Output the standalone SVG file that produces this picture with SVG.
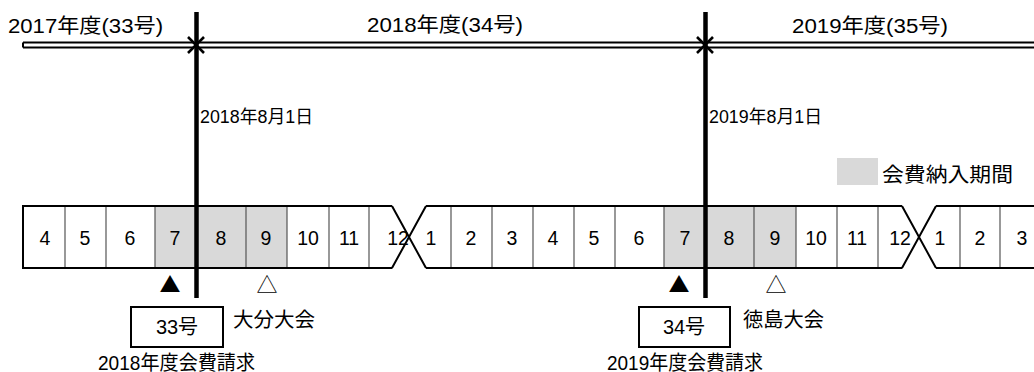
<svg xmlns="http://www.w3.org/2000/svg" width="1034" height="372" viewBox="0 0 1034 372">
<style>
text{font-family:"Liberation Sans","Noto Sans CJK JP",sans-serif;fill:#000}
.yr{font-size:20px}
.dt{font-size:18px}
.m{font-size:19.5px;text-anchor:middle}
.lb{font-size:20px}
.tri{font-size:21px;text-anchor:middle;font-family:"Noto Sans CJK JP",sans-serif}
.out{fill:none;stroke:#000;stroke-width:2}
.div{stroke:#555;stroke-width:1.2}
.thick{stroke:#000;stroke-width:4.5}
.arr{fill:none;stroke:#000;stroke-width:2}
.chev{fill:none;stroke:#000;stroke-width:2.6}
.box{fill:#fff;stroke:#000;stroke-width:2}
.shade{fill:#d9d9d9}
</style>
<rect width="1034" height="372" fill="#fff"/>

<g id="year-labels">
<text class="yr" x="8" y="33" textLength="155" lengthAdjust="spacingAndGlyphs">2017年度(33号)</text>
<text class="yr" x="367" y="32" textLength="156" lengthAdjust="spacingAndGlyphs">2018年度(34号)</text>
<text class="yr" x="792" y="33" textLength="156" lengthAdjust="spacingAndGlyphs">2019年度(35号)</text>
</g>

<g id="connectors">
<path class="arr" d="M23,42.5 H193.5 M23,47.5 H193.5 M23,42.5 V47.5"/>
<path class="chev" d="M188,37 L196,45 L188,53"/>
<path class="chev" d="M204,37 L196,45 L204,53"/>
<path class="arr" d="M198.5,42.5 H702.5 M198.5,47.5 H702.5"/>
<path class="chev" d="M697,37 L705,45 L697,53"/>
<path class="chev" d="M713,37 L705,45 L713,53"/>
<path class="arr" d="M707.5,42.5 H1034 M707.5,47.5 H1034"/>
</g>

<g id="dates">
<text class="dt" x="200" y="123" textLength="113" lengthAdjust="spacingAndGlyphs">2018年8月1日</text>
<text class="dt" x="709" y="123" textLength="113" lengthAdjust="spacingAndGlyphs">2019年8月1日</text>
</g>

<g id="legend">
<rect class="shade" x="837" y="158" width="41" height="27"/>
<text class="lb" x="882" y="182" textLength="131" lengthAdjust="spacingAndGlyphs">会費納入期間</text>
</g>

<g id="months">
<rect class="shade" x="155" y="206" width="132" height="62"/>
<rect class="shade" x="664" y="206" width="132" height="62"/>
<path class="div" d="M65,206V268 M106,206V268 M155,206V268 M246,206V268 M287,206V268 M329,206V268 M369,206V268 M451,206V268 M492,206V268 M533,206V268 M574,206V268 M615,206V268 M664,206V268 M754,206V268 M796,206V268 M837,206V268 M878,206V268 M960,206V268 M1000,206V268"/>
<path class="out" d="M392,206 H23 V268 H392 M426,206 H902 M426,268 H902 M936,206 H1034 M936,268 H1034 M392,206 L426,268 M392,268 L426,206 M902,206 L936,268 M902,268 L936,206"/>
<text class="m" x="45" y="245">4</text>
<text class="m" x="85" y="245">5</text>
<text class="m" x="130" y="245">6</text>
<text class="m" x="175" y="245">7</text>
<text class="m" x="221" y="245">8</text>
<text class="m" x="266" y="245">9</text>
<text class="m" x="308" y="245">10</text>
<text class="m" x="349" y="245">11</text>
<text class="m" x="398" y="245">12</text>
<text class="m" x="431" y="245">1</text>
<text class="m" x="471" y="245">2</text>
<text class="m" x="512" y="245">3</text>
<text class="m" x="553" y="245">4</text>
<text class="m" x="594" y="245">5</text>
<text class="m" x="639" y="245">6</text>
<text class="m" x="685" y="245">7</text>
<text class="m" x="729" y="245">8</text>
<text class="m" x="775" y="245">9</text>
<text class="m" x="816" y="245">10</text>
<text class="m" x="857" y="245">11</text>
<text class="m" x="900" y="245">12</text>
<text class="m" x="940" y="245">1</text>
<text class="m" x="980" y="245">2</text>
<text class="m" x="1022" y="245">3</text>
</g>

<g id="boundary-lines">
<line class="thick" x1="196.5" y1="12" x2="196.5" y2="298"/>
<line class="thick" x1="705.5" y1="12" x2="705.5" y2="298"/>
</g>

<g id="marks">
<text class="tri" x="170" y="292">▲</text>
<text class="tri" x="267" y="292">△</text>
<text class="tri" x="679" y="292">▲</text>
<text class="tri" x="776" y="292">△</text>
</g>

<g id="node-33">
<rect class="box" x="131" y="307" width="92" height="40"/>
<text class="lb" x="177" y="334" text-anchor="middle">33号</text>
<text class="lb" x="233" y="327" textLength="82" lengthAdjust="spacingAndGlyphs">大分大会</text>
<text class="lb" x="98" y="370" textLength="157" lengthAdjust="spacingAndGlyphs">2018年度会費請求</text>
</g>

<g id="node-34">
<rect class="box" x="639" y="307" width="91" height="40"/>
<text class="lb" x="684" y="334" text-anchor="middle">34号</text>
<text class="lb" x="743" y="327" textLength="81" lengthAdjust="spacingAndGlyphs">徳島大会</text>
<text class="lb" x="607" y="370" textLength="156" lengthAdjust="spacingAndGlyphs">2019年度会費請求</text>
</g>
</svg>
